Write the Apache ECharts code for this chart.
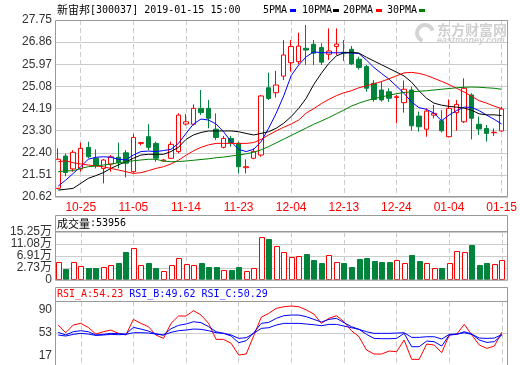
<!DOCTYPE html>
<html><head><meta charset="utf-8">
<script src="https://cdn.jsdelivr.net/npm/echarts@6/dist/echarts.min.js"></script>
<style>html,body{margin:0;padding:0;background:#fff}#c{width:520px;height:365px}</style>
</head><body><div id="c"></div>
<script>
// ---------- data ----------
const dates = ['10-22','10-23','10-24','10-25','10-26','10-29','10-30','10-31','11-01','11-02',
  '11-05','11-06','11-07','11-08','11-09','11-12','11-13','11-14','11-15','11-16',
  '11-19','11-20','11-21','11-22','11-23','11-26','11-27','11-28','11-29','11-30',
  '12-03','12-04','12-05','12-06','12-07','12-10','12-11','12-12','12-13','12-14',
  '12-17','12-18','12-19','12-20','12-21','12-24','12-25','12-26','12-27','12-28',
  '01-02','01-03','01-04','01-07','01-08','01-09','01-10','01-11','01-14','01-15'];
const labeledDates = ['10-25','11-05','11-14','11-23','12-04','12-13','12-24','01-04','01-15'];

const opens = [20.97,22.27,21.75,21.75,22.62,22.18,21.77,21.95,22.22,22.40,21.64,22.78,23.05,22.78,22.07,22.18,22.45,23.56,23.55,24.19,
  24.19,23.35,22.62,22.98,22.78,21.80,22.18,22.31,25.02,24.82,25.49,26.03,26.07,26.61,26.77,26.64,26.37,26.68,26.45,26.57,
  26.17,25.87,25.20,24.93,24.86,24.63,24.42,24.93,23.88,23.35,23.92,23.69,23.05,24.02,23.65,24.73,23.55,23.38,23.21,23.28];
const closes = [22.14,21.61,22.42,22.58,22.24,21.88,22.11,22.24,22.00,21.98,23.02,22.81,22.62,22.18,22.11,22.74,23.92,23.65,24.19,24.02,
  23.79,23.02,22.98,22.81,21.84,21.84,22.45,24.69,24.59,25.13,26.34,26.68,26.70,26.54,26.41,26.05,26.50,26.78,26.42,25.98,
  25.84,25.00,24.55,24.53,24.60,24.66,24.96,23.49,23.45,24.08,23.99,23.29,24.19,24.35,25.00,23.79,23.36,23.18,23.23,24.16];
const highs = [22.58,22.37,22.50,22.81,22.85,22.54,22.15,22.31,22.81,22.51,23.16,22.84,23.55,22.85,22.15,22.85,23.99,23.96,24.35,24.93,
  24.53,23.99,23.08,23.08,22.85,22.14,22.58,24.73,25.63,25.70,26.94,26.94,27.24,27.55,26.94,26.81,27.41,27.41,26.94,26.70,
  26.27,25.94,25.33,25.27,25.00,24.73,25.31,25.06,24.06,24.19,24.33,24.12,24.55,24.53,25.40,24.80,23.86,23.52,23.38,24.26];
const lows = [20.93,21.46,21.64,21.64,22.18,21.77,21.17,21.64,21.77,21.41,21.60,22.70,22.51,22.04,22.04,22.15,22.38,23.50,23.50,23.92,
  23.39,22.92,22.58,22.65,21.57,21.57,22.14,22.24,24.53,24.63,25.33,25.67,25.98,25.94,25.94,25.94,26.14,26.34,26.10,25.94,
  25.75,24.86,24.46,24.46,24.45,23.59,24.02,23.29,23.25,23.05,23.79,23.22,23.02,23.29,23.60,22.94,23.12,22.85,23.08,23.25];

const ma5 = [21.06,21.30,21.57,21.84,22.14,22.22,22.24,22.22,22.14,22.11,22.31,22.45,22.47,22.45,22.49,22.54,22.78,23.18,23.56,23.76,
  23.72,23.56,23.25,22.85,22.54,22.45,22.54,22.85,23.39,23.99,24.69,25.51,25.94,26.27,26.47,26.43,26.43,26.43,26.43,26.42,
  26.40,26.14,25.84,25.60,25.37,25.09,24.80,24.45,24.22,24.15,24.00,23.69,23.92,24.10,24.24,24.23,24.10,23.92,23.75,23.56];
const ma10 = [20.90,20.93,20.97,21.17,21.37,21.48,21.60,21.77,21.91,22.04,22.18,22.31,22.34,22.34,22.34,22.45,22.62,22.94,23.12,23.22,
  23.28,23.28,23.28,23.28,23.25,23.18,23.12,23.18,23.25,23.39,23.59,23.86,24.19,24.60,25.15,25.60,26.00,26.30,26.43,26.45,
  26.42,26.25,26.10,25.95,25.80,25.65,25.50,25.25,24.90,24.60,24.40,24.32,24.27,24.24,24.20,24.12,23.97,23.93,23.93,23.90];
const ma20 = [22.04,22.08,22.00,21.95,21.91,21.87,21.84,21.77,21.71,21.64,21.57,21.60,21.68,21.77,21.84,21.95,22.10,22.30,22.48,22.62,
  22.72,22.78,22.78,22.78,22.78,22.78,22.81,22.94,23.12,23.28,23.43,23.56,23.72,24.00,24.18,24.38,24.55,24.70,24.82,24.90,
  25.02,25.10,25.18,25.27,25.38,25.50,25.62,25.64,25.60,25.52,25.40,25.28,25.15,25.00,24.85,24.68,24.50,24.40,24.28,24.18];
const ma30 = [21.64,21.67,21.68,21.77,21.84,21.87,21.91,21.94,22.00,22.04,22.08,22.11,22.14,22.14,22.07,22.04,22.05,22.07,22.10,22.13,
  22.16,22.20,22.23,22.27,22.31,22.36,22.42,22.52,22.65,22.80,22.95,23.10,23.25,23.40,23.55,23.68,23.82,23.97,24.12,24.28,
  24.40,24.50,24.58,24.65,24.72,24.78,24.83,24.86,24.88,24.90,24.93,24.96,24.99,25.02,25.04,25.05,25.04,25.02,25.00,24.96];

const volumes = [4.71,2.38,4.92,3.53,2.84,2.84,2.96,3.67,4.37,8.19,9.58,3.67,4.37,2.73,1.58,3.67,6.10,4.02,3.67,4.47,
  3.08,3.08,1.93,1.93,3.08,1.58,2.63,13.40,12.82,10.28,8.40,6.45,6.80,7.60,5.51,4.47,7.15,4.71,4.37,3.08,
  5.86,6.21,5.17,4.82,4.82,5.41,4.37,7.25,5.17,4.37,2.63,2.84,4.37,8.54,8.19,10.73,3.77,4.47,4.02,5.3956];

const rsiA = [65.3,53.2,65.3,67.9,61.6,51.1,54.8,57.4,52.2,49.6,74.2,67.9,62.7,49.6,44.3,67.9,79.5,79.5,87.9,81.0,
  67.9,42.7,42.7,36.5,18.1,19.7,48.5,77.5,83.7,91.5,94.1,95.2,94.1,88.9,82.6,67.9,75.8,80.0,70.5,56.4,
  46.9,26.0,19.7,19.7,24.4,23.3,41.7,11.3,11.3,35.4,33.8,21.8,49.6,51.1,66.3,49.6,33.8,28.6,32.2,54.23];
const rsiB = [53.8,49.6,54.8,56.4,54.8,49.6,50.6,52.2,51.7,51.1,61.6,59.0,55.8,51.1,49.6,59.5,64.8,66.9,70.5,69.0,
  62.7,54.8,52.2,48.0,37.5,40.6,53.2,67.9,69.5,75.8,80.0,81.0,81.0,78.4,74.2,70.0,74.2,75.8,69.0,62.7,
  58.5,50.6,44.3,43.8,43.8,44.3,52.2,31.2,31.2,40.1,39.1,32.2,49.6,50.6,54.8,51.1,41.7,38.0,39.1,49.62];
const rsiC = [49.6,48.0,50.6,52.2,51.1,49.0,49.6,50.6,50.1,50.6,53.2,53.2,52.7,51.1,49.6,53.8,56.4,57.4,59.0,58.5,
  56.4,53.2,52.2,49.6,44.3,45.4,52.2,60.0,61.1,65.3,67.9,67.9,67.9,66.9,65.8,64.2,66.3,66.3,63.7,61.1,
  58.5,54.8,52.2,52.2,52.2,52.7,53.2,45.9,45.9,46.9,46.9,43.3,50.6,51.1,53.2,50.6,44.8,44.3,44.8,50.29];

const priceTicks = [20.62,21.51,22.40,23.30,24.19,25.08,25.97,26.86,27.75];
const volTicks = [-1.44,2.73,6.91,11.08,15.25];
const volTickLabels = ['0','2.73万','6.91万','11.08万','15.25万'];
const rsiTicks = [17,53,90];
const rsiRange = [4,102];

const titleName = '新宙邦';
const titleRest = '[300037] 2019-01-15 15:00';
const maNames = ['5PMA','10PMA','20PMA','30PMA'];
const volTitle = '成交量';
const volLast = '53956';
const rsiNames = ['RSI_A','RSI_B','RSI_C'];

// ---------- style ----------
const RED = '#ff0000', GREEN = '#00843c', BLUE = '#0000ff', BLACK = '#000000', MAGREEN = '#008000';
const maColors = [BLUE, BLACK, RED, MAGREEN];
const GRID = '#cccccc', BORDER = '#999999';
const labelFont = "'Liberation Sans','Noto Sans CJK SC',sans-serif";
const monoFont = "'DejaVu Sans Mono','Noto Sans CJK SC',monospace";
const cjkFont = "'Noto Sans CJK SC',sans-serif";

const L = 58.2, W = 443.7, BL = 55, BW = 453;
const isLabeled = (idx, val) => labeledDates.indexOf(val) >= 0;

function catAxis(gi, showLabel) {
  return {
    gridIndex: gi, type: 'category', data: dates, boundaryGap: false,
    axisLine: {show: false}, axisTick: {show: false},
    axisLabel: {show: showLabel, interval: isLabeled, color: RED, fontSize: 12, fontFamily: labelFont, margin: 5},
    splitLine: {show: true, interval: isLabeled, lineStyle: {color: GRID, type: [5, 3], width: 1}}
  };
}
function hiddenX(gi) { return {gridIndex: gi, type: 'value', show: false, min: 0, max: 1}; }

const chart = echarts.init(document.getElementById('c'), null, {renderer: 'canvas'});

const option = {
  animation: false,
  backgroundColor: '#fff',
  grid: [
    {left: BL, top: 20, width: BW, height: 177},
    {left: L, top: 20, width: W, height: 177},
    {left: BL, top: 232, width: BW, height: 48},
    {left: L, top: 232, width: W, height: 48},
    {left: BL, top: 301.7, width: BW, height: 62.3},
    {left: L, top: 301.7, width: W, height: 62.3}
  ],
  xAxis: [hiddenX(0), catAxis(1, true), hiddenX(2), catAxis(3, false), hiddenX(4), catAxis(5, false)],
  yAxis: [
    {gridIndex: 0, type: 'value', min: priceTicks[0], max: priceTicks[priceTicks.length-1],
      axisLine: {show: false}, axisTick: {show: false, customValues: priceTicks},
      axisLabel: {customValues: priceTicks, formatter: v => v.toFixed(2), color: '#333', fontSize: 12, fontFamily: labelFont, margin: 3},
      splitLine: {show: true, lineStyle: {color: GRID, width: 1}}},
    {gridIndex: 1, type: 'value', min: priceTicks[0], max: priceTicks[priceTicks.length-1], show: false},
    {gridIndex: 2, type: 'value', min: volTicks[0], max: volTicks[volTicks.length-1],
      axisLine: {show: false}, axisTick: {show: false, customValues: volTicks},
      axisLabel: {customValues: volTicks, color: '#333', fontSize: 12, fontFamily: labelFont, margin: 3,
        formatter: v => { let k = 0, d = 1e9; volTicks.forEach((t, j) => { if (Math.abs(t - v) < d) { d = Math.abs(t - v); k = j; } }); return volTickLabels[k]; }},
      splitLine: {show: true, lineStyle: {color: GRID, width: 1}}},
    {gridIndex: 3, type: 'value', min: volTicks[0], max: volTicks[volTicks.length-1], show: false},
    {gridIndex: 4, type: 'value', min: rsiRange[0], max: rsiRange[1],
      axisLine: {show: false}, axisTick: {show: false, customValues: rsiTicks},
      axisLabel: {customValues: rsiTicks, formatter: v => String(v), color: '#333', fontSize: 12, fontFamily: labelFont, margin: 3},
      splitLine: {show: true, lineStyle: {color: ['rgba(0,0,0,0)', GRID, 'rgba(0,0,0,0)'], width: 1}}},
    {gridIndex: 5, type: 'value', min: rsiRange[0], max: rsiRange[1], show: false}
  ],
  series: [
    {type: 'candlestick', xAxisIndex: 1, yAxisIndex: 1, barWidth: 5, clip: false,
      data: dates.map((d, i) => [opens[i], closes[i], lows[i], highs[i]]),
      itemStyle: {color: '#ffffff', color0: GREEN, borderColor: RED, borderColor0: GREEN, borderWidth: 1}},
    ...maNames.map((n, k) => ({
      type: 'line', name: n, xAxisIndex: 1, yAxisIndex: 1, symbol: 'none', smooth: false, silent: true, z: 3,
      data: [ma5, ma10, ma20, ma30][k], lineStyle: {color: maColors[k], width: 1}
    })),
    {type: 'custom', xAxisIndex: 3, yAxisIndex: 3, clip: false,
      data: volumes.map((v, i) => [i, v, closes[i] >= opens[i] ? 1 : -1]),
      encode: {x: 0, y: 1},
      renderItem: (params, api) => {
        const i = api.value(0), v = api.value(1), up = api.value(2) > 0;
        const p = api.coord([i, v]);
        const b = api.coord([i, volTicks[0]]);
        const w = 5;
        const x = Math.round(p[0] - w / 2) + 0.5;
        const y = Math.round(p[1]) + 0.5;
        const yb = Math.round(b[1]) - 0.5;
        return {type: 'rect', shape: {x: x, y: y, width: w, height: yb - y},
          style: {fill: up ? '#ffffff' : GREEN, stroke: up ? RED : GREEN, lineWidth: 1}};
      }},
    ...[rsiA, rsiB, rsiC].map((arr, k) => ({
      type: 'line', name: rsiNames[k], xAxisIndex: 5, yAxisIndex: 5, symbol: 'none', silent: true,
      data: arr, lineStyle: {color: k === 0 ? RED : BLUE, width: 1}
    }))
  ],
  graphic: [
    // panel borders
    {type: 'rect', shape: {x: 55.5, y: 20.5, width: 452, height: 176}, style: {fill: 'none', stroke: BORDER, lineWidth: 1}, z: 10, silent: true},
    {type: 'rect', shape: {x: 55.5, y: 215.5, width: 452, height: 64.5}, style: {fill: 'none', stroke: BORDER, lineWidth: 1}, z: 10, silent: true},
    {type: 'line', shape: {x1: 55.5, y1: 231.5, x2: 507.5, y2: 231.5}, style: {stroke: BORDER, lineWidth: 1}, z: 10, silent: true},
    {type: 'rect', shape: {x: 55.5, y: 287.5, width: 452, height: 80}, style: {fill: 'none', stroke: BORDER, lineWidth: 1}, z: 10, silent: true},
    {type: 'line', shape: {x1: 55.5, y1: 301.5, x2: 507.5, y2: 301.5}, style: {stroke: BORDER, lineWidth: 1}, z: 10, silent: true},
    // title
    {type: 'text', x: 57, y: 10, silent: true, style: {
      text: '{a|' + titleName + '}{b|' + titleRest + '}', verticalAlign: 'middle',
      rich: {a: {fontSize: 11, fontFamily: cjkFont, fill: '#000'}, b: {fontSize: 10, fontFamily: monoFont, fill: '#000'}}}},
    // MA legend
    ...maNames.flatMap((n, k) => {
      const tx = [263, 302, 343, 387][k], rx = [290, 333, 376, 419][k];
      return [
        {type: 'text', x: tx, y: 10, silent: true, style: {text: n, fontSize: 10, fontFamily: monoFont, fill: '#000', verticalAlign: 'middle'}},
        {type: 'rect', shape: {x: rx, y: 9, width: 6, height: 3}, style: {fill: maColors[k]}, silent: true}
      ];
    }),
    // watermark
    {type: 'arc', shape: {cx: 425, cy: 33, r: 8, startAngle: Math.PI * 0.6, endAngle: Math.PI * 1.9}, style: {stroke: '#d4d4d4', lineWidth: 4, fill: 'none'}, silent: true},
    {type: 'text', x: 437, y: 30, silent: true, style: {text: '东方财富网', fontSize: 14, fontWeight: 'bold', fontFamily: cjkFont, fill: '#d0d0d0', verticalAlign: 'middle'}},
    {type: 'text', x: 437, y: 40.5, silent: true, style: {text: 'eastmoney.com', fontSize: 9, fontWeight: 'bold', fontStyle: 'italic', fontFamily: labelFont, fill: '#d0d0d0', verticalAlign: 'middle'}},
    // volume header
    {type: 'text', x: 57, y: 223.5, silent: true, style: {
      text: '{a|' + volTitle + '}{b|:' + volLast + '}', verticalAlign: 'middle',
      rich: {a: {fontSize: 11, fontFamily: cjkFont, fill: '#000'}, b: {fontSize: 10, fontFamily: monoFont, fill: '#000'}}}},
    // RSI header
    {type: 'text', x: 57, y: 294.5, silent: true, style: {
      text: '{r|' + rsiNames[0] + ':' + rsiA[rsiA.length-1].toFixed(2) + '} {b|' + rsiNames[1] + ':' + rsiB[rsiB.length-1].toFixed(2) + '} {b|' + rsiNames[2] + ':' + rsiC[rsiC.length-1].toFixed(2) + '}',
      verticalAlign: 'middle', fontSize: 10, fontFamily: monoFont,
      rich: {r: {fontSize: 10, fontFamily: monoFont, fill: RED}, b: {fontSize: 10, fontFamily: monoFont, fill: BLUE}}}}
  ]
};
chart.setOption(option);
</script>
</body></html>
